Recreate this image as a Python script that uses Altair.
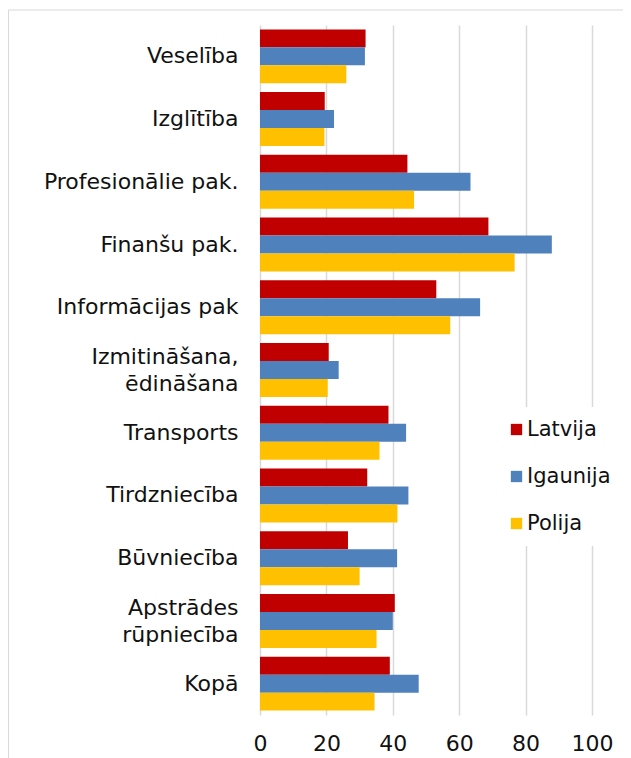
import altair as alt
import pandas as pd

categories = ["Veselība", "Izglītība", "Profesionālie pak.", "Finanšu pak.",
              "Informācijas pak", "Izmitināšana, ēdināšana", "Transports",
              "Tirdzniecība", "Būvniecība", "Apstrādes rūpniecība", "Kopā"]
series = ["Latvija", "Igaunija", "Polija"]
latvija = [31.8, 19.5, 44.4, 68.8, 53.1, 20.7, 38.7, 32.3, 26.5, 40.6, 39.1]
igaunija = [31.6, 22.3, 63.4, 87.9, 66.3, 23.7, 44.0, 44.7, 41.3, 40.0, 47.8]
polija = [26.0, 19.4, 46.4, 76.7, 57.3, 20.4, 36.0, 41.4, 30.0, 35.1, 34.5]
colors = ["#C00000", "#4F81BD", "#FFC000"]
x_ticks = [0, 20, 40, 60, 80, 100]

rows = []
for name, vals in zip(series, [latvija, igaunija, polija]):
    for c, v in zip(categories, vals):
        rows.append({"kat": c, "valsts": name, "v": v})
df = pd.DataFrame(rows)

nb = "\u00a0"
label_expr = (
    "datum.label == 'Izmitināšana, ēdināšana' ? ['Izmitināšana,', 'ēdināšana" + nb * 5 + "'] : "
    "datum.label == 'Apstrādes rūpniecība' ? ['Apstrādes" + nb + "', 'rūpniecība'] : datum.label"
)
two_line_test = "datum.label == 'Izmitināšana, ēdināšana' || datum.label == 'Apstrādes rūpniecība'"

bars = alt.Chart(df).mark_bar().encode(
    x=alt.X("v:Q", scale=alt.Scale(domain=[0, 100], nice=False),
            axis=alt.Axis(values=x_ticks, title=None, domain=False, ticks=False,
                          grid=True, gridColor="#d9d9d9", gridWidth=1.5,
                          labelFontSize=22, labelPadding=18, labelColor="#111",
                          labelFont="DejaVu Sans", labelFlush=False)),
    y=alt.Y("kat:N", sort=categories,
            scale=alt.Scale(paddingInner=0.14, paddingOuter=0.07),
            axis=alt.Axis(title=None, domain=False, ticks=False, grid=False,
                          labelFontSize=22, labelPadding=22, labelColor="#111",
                          labelFont="DejaVu Sans", labelExpr=label_expr,
                          labelLineHeight=27, labelLimit=300,
                          labelOffset={"condition": {"test": two_line_test, "value": -13},
                                       "value": 0})),
    yOffset=alt.YOffset("valsts:N", sort=series,
                        scale=alt.Scale(paddingInner=0, paddingOuter=0)),
    color=alt.Color("valsts:N", sort=series,
                    scale=alt.Scale(domain=series, range=colors),
                    legend=alt.Legend(title=None, orient="none", legendX=234, legendY=382,
                                      fillColor="white", padding=12,
                                      symbolType="square", symbolSize=128,
                                      symbolStrokeWidth=0, labelFontSize=21,
                                      labelFont="DejaVu Sans", labelColor="#111",
                                      labelOffset=0, rowPadding=25)),
)

frame = alt.Chart(pd.DataFrame({"a": [0]})).mark_rect(
    fill=None, stroke="#d9d9d9", strokeWidth=1
).encode(x=alt.value(-251.5), y=alt.value(-15), x2=alt.value(500), y2=alt.value(900))

chart = alt.layer(frame, bars).properties(
    width=332, height=690,
    autosize=alt.AutoSizeParams(type="none"),
    padding={"left": 252, "top": 17, "right": 31, "bottom": 43},
).configure_view(stroke=None)

chart.save("out.html", embed_options={"renderer": "svg", "actions": False})
